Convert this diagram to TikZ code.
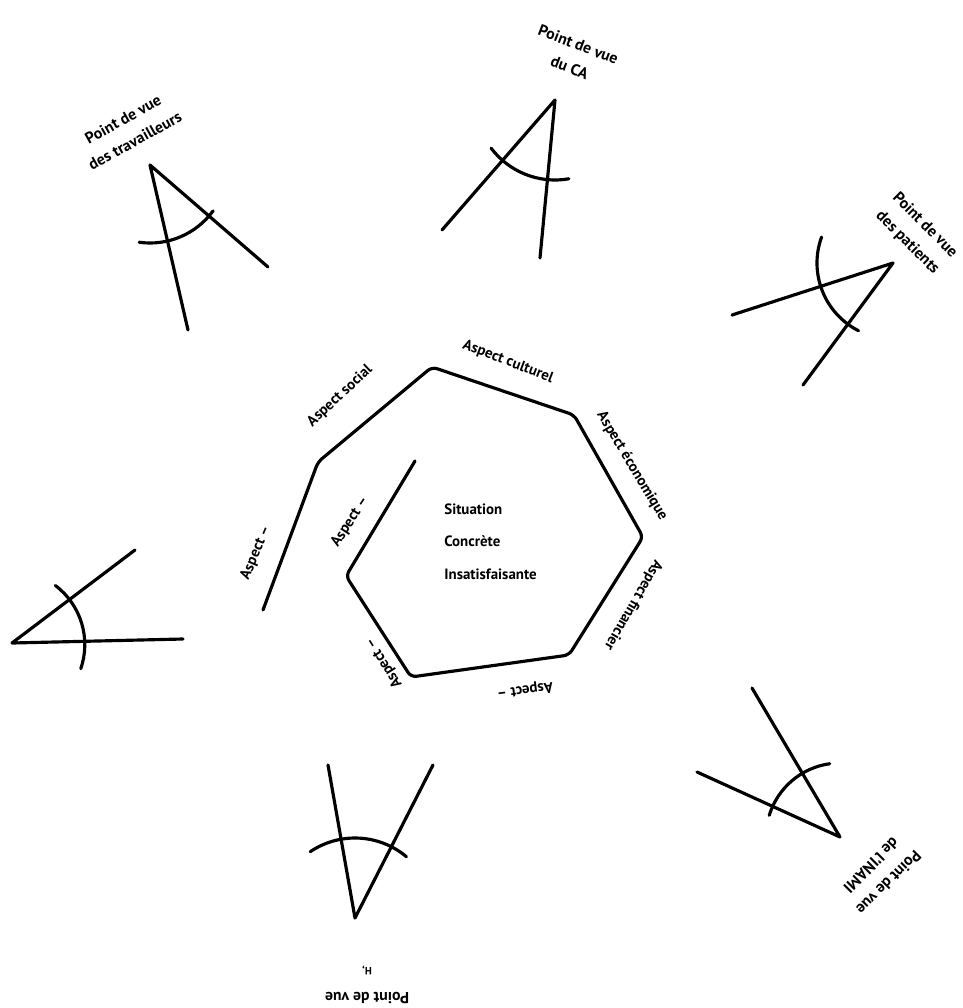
\documentclass[tikz,border=0pt]{standalone}
\usepackage{fontspec}
\setmainfont{PT Sans}
\begin{document}
\begin{tikzpicture}[x=0.02cm,y=0.02cm,
  ln/.style={line width=1.8pt, line cap=round, line join=round},
  lbl/.style={font=\bfseries\fontsize{9}{14}\selectfont, align=center, inner sep=0pt},
  asp/.style={font=\bfseries\fontsize{8.5}{10}\selectfont, inner sep=0pt},
  ctr/.style={font=\bfseries\fontsize{8.5}{18.5}\selectfont, align=left, inner sep=0pt}]
\useasboundingbox (0,0) rectangle (963,-1008);

% spiral heptagon
\coordinate (p1) at (263,-610);
\coordinate (p2) at (318,-462);
\coordinate (p3) at (432,-367);
\coordinate (p4) at (574,-415);
\coordinate (p5) at (643,-537);
\coordinate (p6) at (569,-655);
\coordinate (p7) at (411,-677);
\coordinate (p8) at (346,-576);
\coordinate (p9) at (415,-461);
\draw[ln, rounded corners=3] (p1) -- (p2) -- (p3) -- (p4) -- (p5) -- (p6) -- (p7) -- (p8) -- (p9);

% centre text
\node[ctr, anchor=north west] (sit) at (444,-503) {Situation\\Concrète\\Insatisfaisante};

% aspect labels
\node[asp, rotate=43] (asoc) at (340,-396) {Aspect social};
\node[asp, rotate=-21] (acul) at (508,-362) {Aspect culturel};
\node[asp, rotate=-59] (aeco) at (632,-466) {Aspect économique};
\node[asp, rotate=-120] (afin) at (633,-605) {Aspect financier};
\node[asp, rotate=187] (abot) at (525,-690) {Aspect --};
\node[asp, rotate=122] (abl) at (384,-663) {Aspect --};
\node[asp, rotate=57] (ain) at (350,-522) {Aspect --};
\node[asp, rotate=67] (aout) at (256,-553) {Aspect --};

% angle symbol 1 : travailleurs
\coordinate (v1) at (150,-165);
\coordinate (a1) at (188,-330);
\coordinate (b1) at (268,-267);
\draw[ln] (a1) -- (v1) -- (b1);
\draw[ln] ([shift={(-98:78)}]v1) arc[start angle=-98, end angle=-36, radius=78];
\node[lbl, rotate=29] (t1) at (129,-130) {Point de vue\\des travailleurs};

% angle symbol 2 : CA
\coordinate (v2) at (555,-100);
\coordinate (a2) at (442,-230);
\coordinate (b2) at (540,-258);
\draw[ln] (a2) -- (v2) -- (b2);
\draw[ln] ([shift={(217:80)}]v2) arc[start angle=217, end angle=280, radius=80];
\node[lbl, rotate=-21] (t2) at (574,-56) {Point de vue\\du CA};

% angle symbol 3 : patients
\coordinate (v3) at (893,-263);
\coordinate (a3) at (732,-315);
\coordinate (b3) at (803,-385);
\draw[ln] (a3) -- (v3) -- (b3);
\draw[ln] ([shift={(160:76)}]v3) arc[start angle=160, end angle=243, radius=76];
\node[lbl, rotate=-45] (t3) at (916,-234) {Point de vue\\des patients};

% angle symbol 4 : left
\coordinate (v4) at (12,-643);
\coordinate (a4) at (135,-550);
\coordinate (b4) at (183,-639);
\draw[ln] (a4) -- (v4) -- (b4);
\draw[ln] ([shift={(53:72)}]v4) arc[start angle=53, end angle=-19, radius=74];

% angle symbol 5 : INAMI
\coordinate (v5) at (840,-837);
\coordinate (a5) at (697,-772);
\coordinate (b5) at (752,-688);
\draw[ln] (a5) -- (v5) -- (b5);
\draw[ln] ([shift={(98:74)}]v5) arc[start angle=98, end angle=163, radius=74];
\node[lbl, rotate=-135] (t5) at (880,-874) {Point de vue\\de l'INAMI};

% angle symbol 6 : bottom
\coordinate (v6) at (355,-918);
\coordinate (a6) at (328,-765);
\coordinate (b6) at (433,-765);
\draw[ln] (a6) -- (v6) -- (b6);
\draw[ln] ([shift={(124:80)}]v6) arc[start angle=124, end angle=50, radius=80];
\node[lbl, rotate=180] (t6) at (367,-985) {Point de vue\\{\fontsize{6}{8}\selectfont H,}};
\end{tikzpicture}
\end{document}
